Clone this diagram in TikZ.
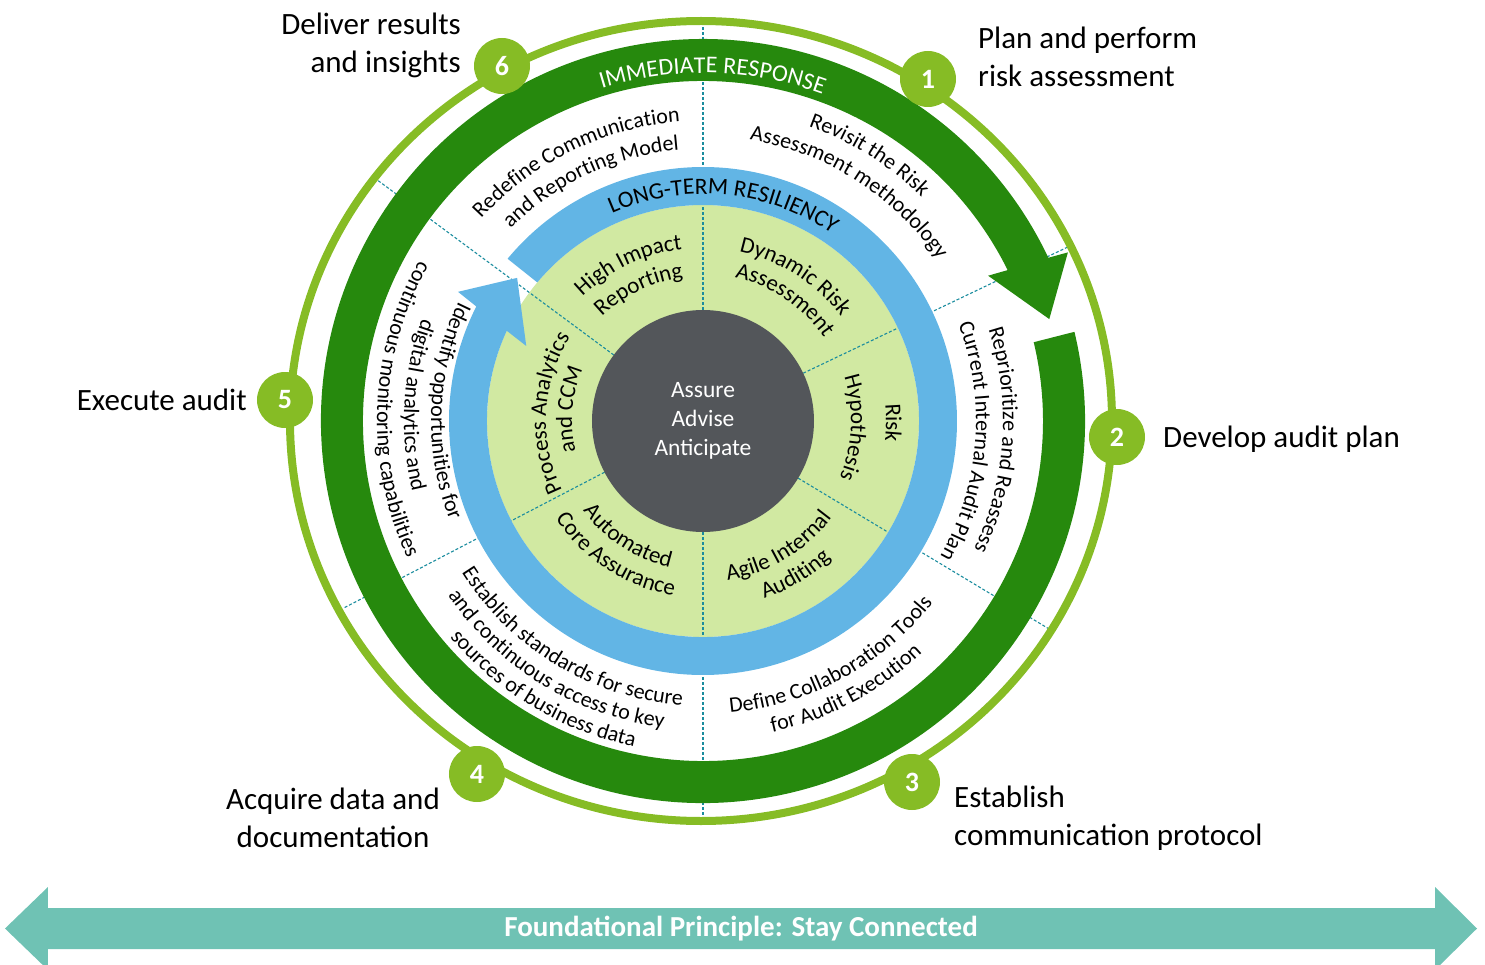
\documentclass[tikz,border=0pt]{standalone}
\usepackage{fontspec}
\setmainfont{Carlito}
\usepackage{tikz}
\usetikzlibrary{decorations.text}
\usepackage{xcolor}

\definecolor{ringgreen}{HTML}{26890D}
\definecolor{badgegreen}{HTML}{86BC25}
\definecolor{ringblue}{HTML}{62B5E5}
\definecolor{palegreen}{HTML}{D1E9A2}
\definecolor{coregray}{HTML}{53565A}
\definecolor{dashteal}{HTML}{1A8C9E}
\definecolor{bannerteal}{HTML}{6FC2B4}

\newcommand{\ringfont}{\fontsize{22}{26}\selectfont}
\newcommand{\innerfont}{\fontsize{23}{27}\selectfont}

\begin{document}
\begin{tikzpicture}[x=1pt, y=1pt,
    badge/.style={circle, fill=badgegreen, minimum size=56pt, inner sep=0pt, text=white, font=\fontsize{28}{30}\selectfont\bfseries},
    lbl/.style={inner sep=0pt, font=\fontsize{31}{38}\selectfont},
    dashline/.style={dashteal, line width=1.1pt, dash pattern=on 3pt off 2pt},
    arctext/.style={decorate, decoration={text along path, text align=center, text={#1}}}]
            \useasboundingbox (-703,-543) rectangle (782,421);

            % Inner disk
            \fill[palegreen] (0,0) circle (216);

            % Sector lines
            \draw[dashline] (90:111) -- (90:402);
            \draw[dashline] (25.5:111) -- (25.5:404);
            \draw[dashline] (-31:111) -- (-31:404);
            \draw[dashline] (-90:111) -- (-90:402);
            \draw[dashline] (207.5:111) -- (207.5:406);
            \draw[dashline] (143.5:111) -- (143.5:406);

            % Core
            \node[circle, fill=coregray, minimum size=222pt, inner sep=0pt, text=white, align=center, font=\fontsize{23.5}{29}\selectfont] (core) at (0,0) {Assure\\Advise\\Anticipate};

            % Blue ring arrow
            \fill[ringblue] (140.3:254) arc[start angle=140.3, end angle=-206.8, radius=254]
                -- (152.2:277) -- (142.4:234.6) -- (157:192) -- (155.3:216)
                arc[start angle=-204.7, end angle=140.1, radius=216] -- cycle;

            % Green ring arrow
            \fill[ringgreen] (13.5:382) arc[start angle=13.5, end angle=-334.7, radius=382]
                -- (24.8:402) -- (16.4:361) -- (27:320) -- (26.35:340)
                arc[start angle=-333.65, end angle=13.4, radius=340] -- cycle;

            % Outer ring
            \draw[badgegreen, line width=8pt] (-2,0) ellipse [x radius=411, y radius=400];

            % Steps
            \node[badge] (b1) at (225,342) {1};
            \node[badge] (b2) at (414,-16) {2};
            \node[badge] (b3) at (209,-361) {3};
            \node[badge] (b4) at (-226,-353) {4};
            \node[badge] (b5) at (-418,21) {5};
            \node[badge] (b6) at (-201,355) {6};

            \node[lbl, anchor=west, align=left] (l1) at (275,364) {Plan and perform\\risk assessment};
            \node[lbl, anchor=west] (l2) at (460,-18) {Develop audit plan};
            \node[lbl, anchor=west, align=left] (l3) at (251,-397) {Establish\\communication protocol};
            \node[lbl, align=center] (l4) at (-370,-397) {Acquire data and\\documentation};
            \node[lbl, anchor=east] (l5) at (-456,21) {Execute audit};
            \node[lbl, anchor=east, align=right] (l6) at (-242,376) {Deliver results\\and insights};

            % Band labels
            \path[arctext={|\fontsize{24}{28}\selectfont\color{white}|IMMEDIATE RESPONSE}] (138.4:348) arc[start angle=138.4, end angle=38.4, radius=348];
            \path[arctext={|\fontsize{23.5}{27}\selectfont|LONG-TERM RESILIENCY}] (134.5:227) arc[start angle=134.5, end angle=34.5, radius=227];

            % Outer sectors
            \path[arctext={|\ringfont|Redefine Communication}] (166:300) arc[start angle=166, end angle=66, radius=300];
            \path[arctext={|\ringfont|and Reporting Model}] (165:272) arc[start angle=165, end angle=65, radius=272];
            \path[arctext={|\ringfont|Revisit the Risk}] (108:313) arc[start angle=108, end angle=8, radius=313];
            \path[arctext={|\ringfont|Assessment methodology}] (107.5:285) arc[start angle=107.5, end angle=7.5, radius=285];
            \path[arctext={|\ringfont|Reprioritize and Reassess}] (46.2:300) arc[start angle=46.2, end angle=-53.8, radius=300];
            \path[arctext={|\ringfont|Current Internal Audit Plan}] (45.5:273) arc[start angle=45.5, end angle=-54.5, radius=273];
            \path[arctext={|\ringfont|Define Collaboration Tools}] (-111.5:293) arc[start angle=-111.5, end angle=-11.5, radius=293];
            \path[arctext={|\ringfont|for Audit Execution}] (-112:319) arc[start angle=-112, end angle=-12, radius=319];
            \path[arctext={|\ringfont|Establish standards for secure}] (189:285) arc[start angle=189, end angle=289, radius=285];
            \path[arctext={|\ringfont|and continuous access to key}] (188.5:309) arc[start angle=188.5, end angle=288.5, radius=309];
            \path[arctext={|\ringfont|sources of business data}] (189.3:333) arc[start angle=189.3, end angle=289.3, radius=333];
            \path[arctext={|\ringfont|Identify opportunities for}] (127.7:272) arc[start angle=127.7, end angle=227.7, radius=272];
            \path[arctext={|\ringfont|digital analytics and}] (126.8:299) arc[start angle=126.8, end angle=226.8, radius=299];
            \path[arctext={|\ringfont|continuous monitoring capabilities}] (127.7:326) arc[start angle=127.7, end angle=227.7, radius=326];

            % Inner sectors
            \path[arctext={|\innerfont|High Impact}] (165.5:173) arc[start angle=165.5, end angle=65.5, radius=173];
            \path[arctext={|\innerfont|Reporting}] (166:145) arc[start angle=166, end angle=66, radius=145];
            \path[arctext={|\innerfont|Dynamic Risk}] (107.5:173) arc[start angle=107.5, end angle=7.5, radius=173];
            \path[arctext={|\innerfont|Assessment}] (106:147) arc[start angle=106, end angle=6, radius=147];
            \path[arctext={|\innerfont|Risk}] (49.5:183) arc[start angle=49.5, end angle=-50.5, radius=183];
            \path[arctext={|\innerfont|Hypothesis}] (47.5:148) arc[start angle=47.5, end angle=-52.5, radius=148];
            \path[arctext={|\innerfont|Agile Internal}] (-109:161) arc[start angle=-109, end angle=-9, radius=161];
            \path[arctext={|\innerfont|Auditing}] (-109:188) arc[start angle=-109, end angle=-9, radius=188];
            \path[arctext={|\innerfont|Automated}] (187:150) arc[start angle=187, end angle=287, radius=150];
            \path[arctext={|\innerfont|Core Assurance}] (187:177) arc[start angle=187, end angle=287, radius=177];
            \path[arctext={|\innerfont|Process Analytics}] (227:157) arc[start angle=227, end angle=127, radius=157];
            \path[arctext={|\innerfont|and CCM}] (225:131) arc[start angle=225, end angle=125, radius=131];

            % Foundation banner
            \fill[bannerteal] (-698,-507.5) -- (-655,-466) -- (-655,-487) -- (732,-487) -- (732,-466)
                -- (774,-507.5) -- (732,-549) -- (732,-528) -- (-655,-528) -- (-655,-549) -- cycle;
            \node[text=white, font=\fontsize{29}{32}\selectfont\bfseries] (banner) at (38,-508) {Foundational Principle: Stay Connected};
        \end{tikzpicture}
\end{document}
